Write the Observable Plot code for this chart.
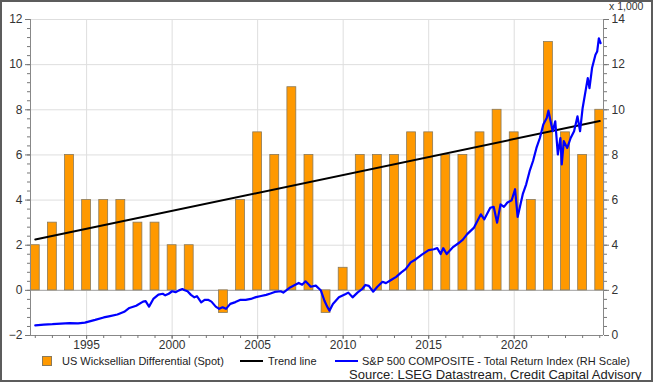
<!DOCTYPE html>
<html>
<head>
<meta charset="utf-8">
<script src="https://cdn.jsdelivr.net/npm/d3@7"></script>
<script src="https://cdn.jsdelivr.net/npm/@observablehq/plot@0.6"></script>
<style>
  html, body { margin: 0; padding: 0; background: #fff; }
  body { font-family: "Liberation Sans", Arial, sans-serif; }
  #wrap { position: relative; width: 653px; height: 382px; overflow: hidden; background: #fff; }
  #chart { position: absolute; left: 0; top: 0; }
  #frame { position: absolute; left: 0; top: 0; width: 653px; height: 382px; box-sizing: border-box;
           border: 2px solid #5c5c5c; pointer-events: none; }
  .unit { position: absolute; left: 609px; top: 2px; font-size: 10.5px; line-height: 9px; color: #333; }
  .leg { position: absolute; top: 355px; font-size: 11px; color: #222; line-height: 12px; white-space: nowrap; }
  .sw { position: absolute; }
  .src { position: absolute; left: 349px; top: 368px; font-size: 13px; color: #222; line-height: 14px; white-space: nowrap; }
</style>
</head>
<body>
<div id="wrap">
  <div id="chart"></div>
  <div class="unit">x 1,000</div>
  <div class="sw" style="left:42px; top:356px; width:8px; height:8px; background:#FF9900; border:1px solid #8a7a5a;"></div>
  <div class="leg" style="left:62px;">US Wicksellian Differential (Spot)</div>
  <div class="sw" style="left:240px; top:360px; width:23px; height:2px; background:#000;"></div>
  <div class="leg" style="left:268px;">Trend line</div>
  <div class="sw" style="left:335px; top:360px; width:23px; height:2px; background:#0000ff;"></div>
  <div class="leg" style="left:362px;">S&amp;P 500 COMPOSITE - Total Return Index (RH Scale)</div>
  <div class="src">Source: LSEG Datastream, Credit Capital Advisory</div>
  <div id="frame"></div>
</div>
<script>
// ---------- Data ----------
const years = [1992, 1993, 1994, 1995, 1996, 1997, 1998, 1999, 2000, 2001,
               2002, 2003, 2004, 2005, 2006, 2007, 2008, 2009, 2010, 2011,
               2012, 2013, 2014, 2015, 2016, 2017, 2018, 2019, 2020, 2021,
               2022, 2023, 2024, 2025];
const differential = [2, 3, 6, 4, 4, 4, 3, 3, 2, 2,
                      0, -1, 4, 7, 6, 9, 6, -1, 1, 6,
                      6, 6, 7, 7, 6, 6, 7, 8, 7, 4,
                      11, 7, 6, 8];

const trendYears = [1992, 2025];
const trendValues = [2.25, 7.5];

// S&P 500 Composite total return index, thousands (right-hand scale)
const spDates = [1992.0, 1992.5, 1993.0, 1993.5, 1994.0, 1994.5, 1994.9, 1995.5, 1996.0, 1996.3,
  1996.8, 1997.2, 1997.5, 1997.9, 1998.3, 1998.45, 1998.65, 1998.9, 1999.2, 1999.45,
  1999.6, 1999.8, 2000.0, 2000.2, 2000.4, 2000.6, 2000.7, 2000.9, 2001.1, 2001.3,
  2001.45, 2001.7, 2001.9, 2002.1, 2002.3, 2002.55, 2002.75, 2002.95, 2003.15, 2003.4,
  2003.7, 2004.0, 2004.3, 2004.6, 2004.9, 2005.2, 2005.5, 2005.75, 2006.0, 2006.35,
  2006.5, 2006.9, 2007.2, 2007.4, 2007.6, 2007.8, 2008.0, 2008.1, 2008.4, 2008.7,
  2008.9, 2009.05, 2009.2, 2009.4, 2009.75, 2010.15, 2010.3, 2010.55, 2010.85, 2011.1,
  2011.3, 2011.5, 2011.75, 2012.0, 2012.3, 2012.5, 2012.8, 2013.1, 2013.4, 2013.65,
  2013.95, 2014.25, 2014.6, 2015.0, 2015.3, 2015.5, 2015.7, 2015.85, 2016.05, 2016.4,
  2016.8, 2017.0, 2017.25, 2017.65, 2018.05, 2018.25, 2018.6, 2018.8, 2019.0, 2019.2,
  2019.4, 2019.6, 2019.85, 2020.05, 2020.2, 2020.5, 2020.7, 2020.9, 2021.1, 2021.3,
  2021.5, 2021.7, 2021.9, 2022.0, 2022.25, 2022.4, 2022.55, 2022.7, 2022.78, 2022.9,
  2023.1, 2023.3, 2023.5, 2023.7, 2023.85, 2024.0, 2024.2, 2024.3, 2024.4, 2024.55,
  2024.75, 2024.85, 2024.95, 2025.05];
const spValues = [0.45, 0.48, 0.50, 0.53, 0.55, 0.54, 0.57, 0.69, 0.80, 0.85,
  0.93, 1.05, 1.22, 1.32, 1.50, 1.52, 1.28, 1.62, 1.81, 1.85,
  1.78, 1.85, 1.96, 1.92, 2.00, 2.06, 2.02, 1.96, 1.80, 1.69,
  1.74, 1.47, 1.58, 1.58, 1.50, 1.28, 1.18, 1.25, 1.18, 1.40,
  1.48, 1.58, 1.58, 1.62, 1.70, 1.75, 1.80, 1.86, 1.93, 1.96,
  1.90, 2.13, 2.25, 2.33, 2.25, 2.40, 2.25, 2.16, 2.21, 1.99,
  1.55, 1.30, 1.10, 1.40, 1.69, 1.84, 1.90, 1.69, 1.91, 2.05,
  2.24, 2.20, 1.94, 2.16, 2.38, 2.32, 2.46, 2.60, 2.80, 2.94,
  3.24, 3.38, 3.58, 3.78, 3.82, 3.87, 3.61, 3.87, 3.61, 3.90,
  4.12, 4.25, 4.49, 4.78, 5.37, 5.15, 5.66, 5.70, 5.00, 5.81,
  5.70, 5.89, 5.99, 6.48, 5.25, 6.26, 6.70, 7.28, 7.73, 8.31,
  8.75, 9.35, 9.64, 9.96, 9.05, 9.49, 8.02, 8.75, 7.58, 8.61,
  8.31, 8.75, 9.05, 9.71, 9.05, 10.08, 10.96, 11.40, 10.96, 11.85,
  12.44, 12.58, 13.17, 12.95];

const leftTicks = [-2, 0, 2, 4, 6, 8, 10, 12];
const rightTicks = [0, 2, 4, 6, 8, 10, 12, 14];
const xTicks = [1995, 2000, 2005, 2010, 2015, 2020];

// ---------- Build ----------
const bars = years.map((y, i) => ({year: y, value: differential[i]}));
const trend = trendYears.map((y, i) => ({year: y, value: trendValues[i]}));
const RIGHT_OFFSET = 2; // right scale 0..14 sits on left scale -2..12
const sp = spDates.map((d, i) => ({t: d, v: spValues[i] - RIGHT_OFFSET}));

const xDomain = [1991.72, 2025.22];
const minorY = d3.range(-2, 12.001, 0.4);
const minorX = d3.range(1992, 2026, 1);
const font = '"Liberation Sans", Arial, sans-serif';

const chart = Plot.plot({
  width: 653,
  height: 382,
  marginLeft: 30,
  marginRight: 50,
  marginTop: 19,
  marginBottom: 47,
  style: {fontFamily: font, fontSize: "12px", color: "#333", background: "transparent", overflow: "visible"},
  x: {type: "linear", domain: xDomain},
  y: {type: "linear", domain: [-2, 12]},
  marks: [
    Plot.gridY(leftTicks, {stroke: "#dedede", strokeOpacity: 1}),
    Plot.gridX(xTicks, {stroke: "#dedede", strokeOpacity: 1}),
    Plot.ruleY([0], {stroke: "#a8a8a8"}),
    Plot.rect(bars, {x1: d => d.year - 0.26, x2: d => d.year + 0.26, y1: 0, y2: "value",
                     fill: "#FF9900", stroke: "#8a7a5a", strokeWidth: 0.8}),
    Plot.line(trend, {x: "year", y: "value", stroke: "#000", strokeWidth: 2}),
    Plot.line(sp, {x: "t", y: "v", stroke: "#0000ff", strokeWidth: 2.2, strokeLinejoin: "round"}),
    // axis lines
    Plot.ruleX([xDomain[0]], {stroke: "#888"}),
    Plot.ruleX([xDomain[1]], {stroke: "#888"}),
    Plot.ruleY([-2], {stroke: "#888"}),
    // left axis
    Plot.axisY(leftTicks, {anchor: "left", tickSize: 5, tickPadding: 3, stroke: "#777", fill: "#333", label: null}),
    Plot.axisY(minorY, {anchor: "left", tickSize: 3, tickFormat: () => "", stroke: "#777", label: null}),
    // right axis (thousands)
    Plot.axisY(rightTicks.map(r => r - RIGHT_OFFSET), {anchor: "right", tickSize: 5, tickPadding: 3,
      tickFormat: d => String(Math.round(d + RIGHT_OFFSET)), stroke: "#777", fill: "#333", label: null}),
    Plot.axisY(minorY, {anchor: "right", tickSize: 3, tickFormat: () => "", stroke: "#777", label: null}),
    // x axis
    Plot.axisX(xTicks, {anchor: "bottom", tickSize: 4, tickPadding: 1, tickFormat: d => String(d),
      stroke: "#777", fill: "#333", label: null}),
    Plot.axisX(minorX, {anchor: "bottom", tickSize: 3, tickFormat: () => "", stroke: "#777", label: null})
  ]
});
document.getElementById("chart").appendChild(chart);
</script>
</body>
</html>
